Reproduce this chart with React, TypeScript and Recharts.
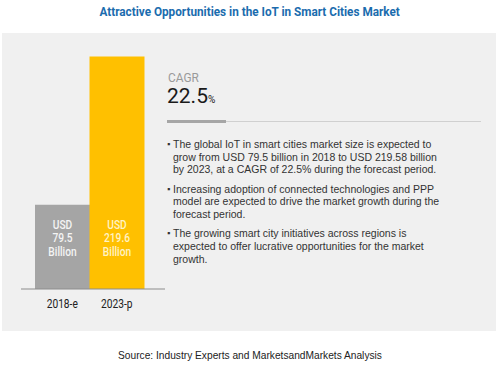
import { BarChart, Bar, XAxis, YAxis, Cell, LabelList } from "recharts";

const years = ["2018-e", "2023-p"];
const marketSize = [79.5, 219.6]; // USD billion
const barColors = ["#a5a5a5", "#ffc000"];
const labelColors = ["#f4f4f4", "#fff3c4"];

const cagr = "22.5";
const bullets = [
  [
    "The global IoT in smart cities market size is expected to",
    "grow from USD 79.5 billion in 2018 to USD 219.58 billion",
    "by 2023, at a CAGR of 22.5% during the forecast period.",
  ],
  [
    "Increasing adoption of connected technologies and PPP",
    "model are expected to drive the market growth during the",
    "forecast period.",
  ],
  [
    "The growing smart city initiatives across regions is",
    "expected to offer lucrative opportunities for the market",
    "growth.",
  ],
];

const data = years.map((y, i) => ({ year: y, value: marketSize[i] }));

const COND = "Roboto, 'Liberation Sans', sans-serif";
const BODY = "'Liberation Sans', Arial, sans-serif";

// squeeze text horizontally to imitate the condensed face of the original
const squeeze = (sx: number, origin = "left") => ({
  display: "inline-block",
  transform: `scaleX(${sx})`,
  transformOrigin: origin,
});

const BarLabel = (props: any) => {
  const { x, y, width, height, value, index } = props;
  const cx = x + width / 2;
  const top = y + height - 60;
  const fill = labelColors[index];
  const style = { fontFamily: COND, fontSize: 12, fontWeight: 500 };
  return (
    <g transform={`translate(${cx},${top}) scale(0.85,1)`}>
      <text x={0} y={0} textAnchor="middle" fill={fill} style={style}>
        USD
      </text>
      <text x={0} y={13.5} textAnchor="middle" fill={fill} style={style}>
        {value}
      </text>
      <text x={0} y={27} textAnchor="middle" fill={fill} style={style}>
        Billion
      </text>
    </g>
  );
};

const YearTick = (props: any) => {
  const { x, y, payload } = props;
  return (
    <g transform={`translate(${x},${y}) scale(0.85,1)`}>
      <text
        x={0}
        y={0}
        dy="0.71em"
        textAnchor="middle"
        fill="#222"
        style={{ fontFamily: COND, fontSize: 12 }}
      >
        {payload.value}
      </text>
    </g>
  );
};

export default function App() {
  return (
    <div
      style={{
        position: "absolute",
        left: 0,
        top: 0,
        width: 500,
        height: 368,
        background: "#fff",
        overflow: "hidden",
      }}
    >
      <div
        style={{
          position: "absolute",
          top: 3,
          width: 500,
          textAlign: "center",
          fontFamily: COND,
          fontWeight: 700,
          fontSize: 13.5,
          color: "#1b6cae",
        }}
      >
        <span style={squeeze(0.87, "center")}>
          Attractive Opportunities in the IoT in Smart Cities Market
        </span>
      </div>

      <div
        style={{
          position: "absolute",
          left: 2,
          top: 33,
          width: 494,
          height: 298,
          background: "#f0f0f0",
        }}
      />

      <div style={{ position: "absolute", left: 0, top: 0 }}>
        <BarChart
          width={500}
          height={368}
          data={data}
          margin={{ top: 35, left: 21, right: 335, bottom: 49 }}
          barCategoryGap={0}
        >
          <XAxis
            dataKey="year"
            height={30}
            padding={{ left: 14, right: 21 }}
            tickLine={false}
            axisLine={{ stroke: "#8c8c8c" }}
            tick={<YearTick />}
            tickMargin={4}
          />
          <YAxis hide domain={[0, 240]} />
          <Bar dataKey="value" isAnimationActive={false}>
            {data.map((_, i) => (
              <Cell key={i} fill={barColors[i]} />
            ))}
            <LabelList dataKey="value" content={BarLabel} />
          </Bar>
        </BarChart>
      </div>

      <div
        style={{
          position: "absolute",
          left: 168,
          top: 69,
          fontFamily: COND,
          fontSize: 13.5,
          lineHeight: "16px",
          color: "#9a9a9a",
        }}
      >
        <span style={squeeze(0.88)}>CAGR</span>
      </div>
      <div
        style={{
          position: "absolute",
          left: 167,
          top: 85,
          fontFamily: COND,
          fontSize: 21,
          lineHeight: "22px",
          color: "#1a1a1a",
        }}
      >
        <span style={squeeze(1)}>
          {cagr}
          <span style={{ fontSize: 10 }}>%</span>
        </span>
      </div>
      <div
        style={{
          position: "absolute",
          left: 167,
          top: 121,
          width: 314,
          height: 1,
          background: "#d0d0d0",
        }}
      />
      <div
        style={{
          position: "absolute",
          left: 167,
          top: 120,
          width: 59,
          height: 3,
          background: "#a6a6a6",
        }}
      />

      <div
        style={{
          position: "absolute",
          left: 167,
          top: 138,
          fontFamily: BODY,
          fontSize: 10.5,
          lineHeight: "12.7px",
          color: "#333",
        }}
      >
        {bullets.map((b, i) => (
          <div key={i} style={{ position: "relative", paddingLeft: 6, marginBottom: 6.5 }}>
            <span style={{ position: "absolute", left: 0, top: 0, fontSize: 9 }}>▪</span>
            {b.map((line, j) => (
              <div key={j} style={{ whiteSpace: "nowrap" }}>
                {line}
              </div>
            ))}
          </div>
        ))}
      </div>

      <div
        style={{
          position: "absolute",
          top: 350,
          width: 500,
          textAlign: "center",
          fontFamily: BODY,
          fontSize: 10.2,
          color: "#222",
        }}
      >
        Source: Industry Experts and MarketsandMarkets Analysis
      </div>
    </div>
  );
}
